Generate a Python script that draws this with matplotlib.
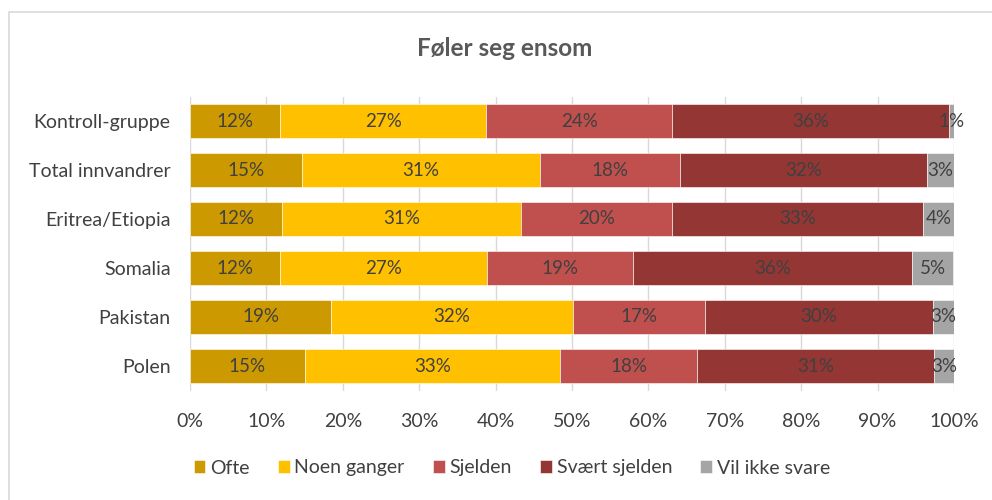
import matplotlib
matplotlib.use("Agg")
import matplotlib.pyplot as plt
from matplotlib.patches import Rectangle
import numpy as np

categories = ["Kontroll-gruppe", "Total innvandrer", "Eritrea/Etiopia", "Somalia", "Pakistan", "Polen"]
series_names = ["Ofte", "Noen ganger", "Sjelden", "Svært sjelden", "Vil ikke svare"]
ofte = [11.8, 14.6, 12.1, 11.8, 18.5, 15.0]
noen = [27.0, 31.2, 31.2, 27.1, 31.6, 33.4]
sjelden = [24.3, 18.3, 19.8, 19.1, 17.3, 18.0]
svart = [36.2, 32.4, 32.8, 36.5, 29.9, 31.0]
vil = [0.7, 3.5, 4.1, 5.4, 2.7, 2.6]
labels = [
    ["12%", "15%", "12%", "12%", "19%", "15%"],
    ["27%", "31%", "31%", "27%", "32%", "33%"],
    ["24%", "18%", "20%", "19%", "17%", "18%"],
    ["36%", "32%", "33%", "36%", "30%", "31%"],
    ["1%", "3%", "4%", "5%", "3%", "3%"],
]
xticklabels = ["0%", "10%", "20%", "30%", "40%", "50%", "60%", "70%", "80%", "90%", "100%"]
colors = ["#CC9900", "#FFC000", "#C0504D", "#943634", "#A5A5A5"]

plt.rcParams['font.family'] = ['Lato', 'DejaVu Sans']
fig = plt.figure(figsize=(9.92, 5.0), dpi=100)
fig.patches.append(Rectangle((0.0095, -0.1), 1.2, 1.076, transform=fig.transFigure,
                             fill=False, edgecolor="#D9D9D9", linewidth=1.2))
ax = fig.add_axes([0.1915, 0.219, 0.7702, 0.588])

data = [ofte, noen, sjelden, svart, vil]
y = np.arange(len(categories))
left = np.zeros(len(categories))
for i, (vals, name, c) in enumerate(zip(data, series_names, colors)):
    vals = np.array(vals)
    ax.barh(y, vals, left=left, height=0.71, color=c, edgecolor="white", linewidth=0.4,
            label=name, zorder=2)
    for j in range(len(categories)):
        ax.text(left[j] + vals[j] / 2, y[j], labels[i][j], ha="center", va="center",
                fontsize=13.5, color="#404040", zorder=3)
    left += vals

ax.set_xlim(0, 100)
ax.set_ylim(len(categories) - 0.5, -0.5)
ax.set_yticks(y)
ax.set_yticklabels(categories, fontsize=14, color="#404040")
ax.set_xticks(np.arange(0, 101, 10))
ax.set_xticklabels(xticklabels, fontsize=14, color="#404040")
ax.tick_params(axis="y", length=0, pad=14)
ax.tick_params(axis="x", length=0, pad=16)
ax.grid(axis="x", color="#D9D9D9", linewidth=1, zorder=0)
for s in ax.spines.values():
    s.set_visible(False)

fig.text(0.509, 0.904, "Føler seg ensom", ha="center", va="center", fontsize=17.5,
         fontweight="bold", color="#595959")

fig.legend(loc="center", bbox_to_anchor=(0.516, 0.064), ncol=5, frameon=False,
           fontsize=14, handlelength=0.6, handleheight=0.6, handletextpad=0.25,
           columnspacing=1.45, labelcolor="#404040")

fig.savefig("out.png", dpi=100)
